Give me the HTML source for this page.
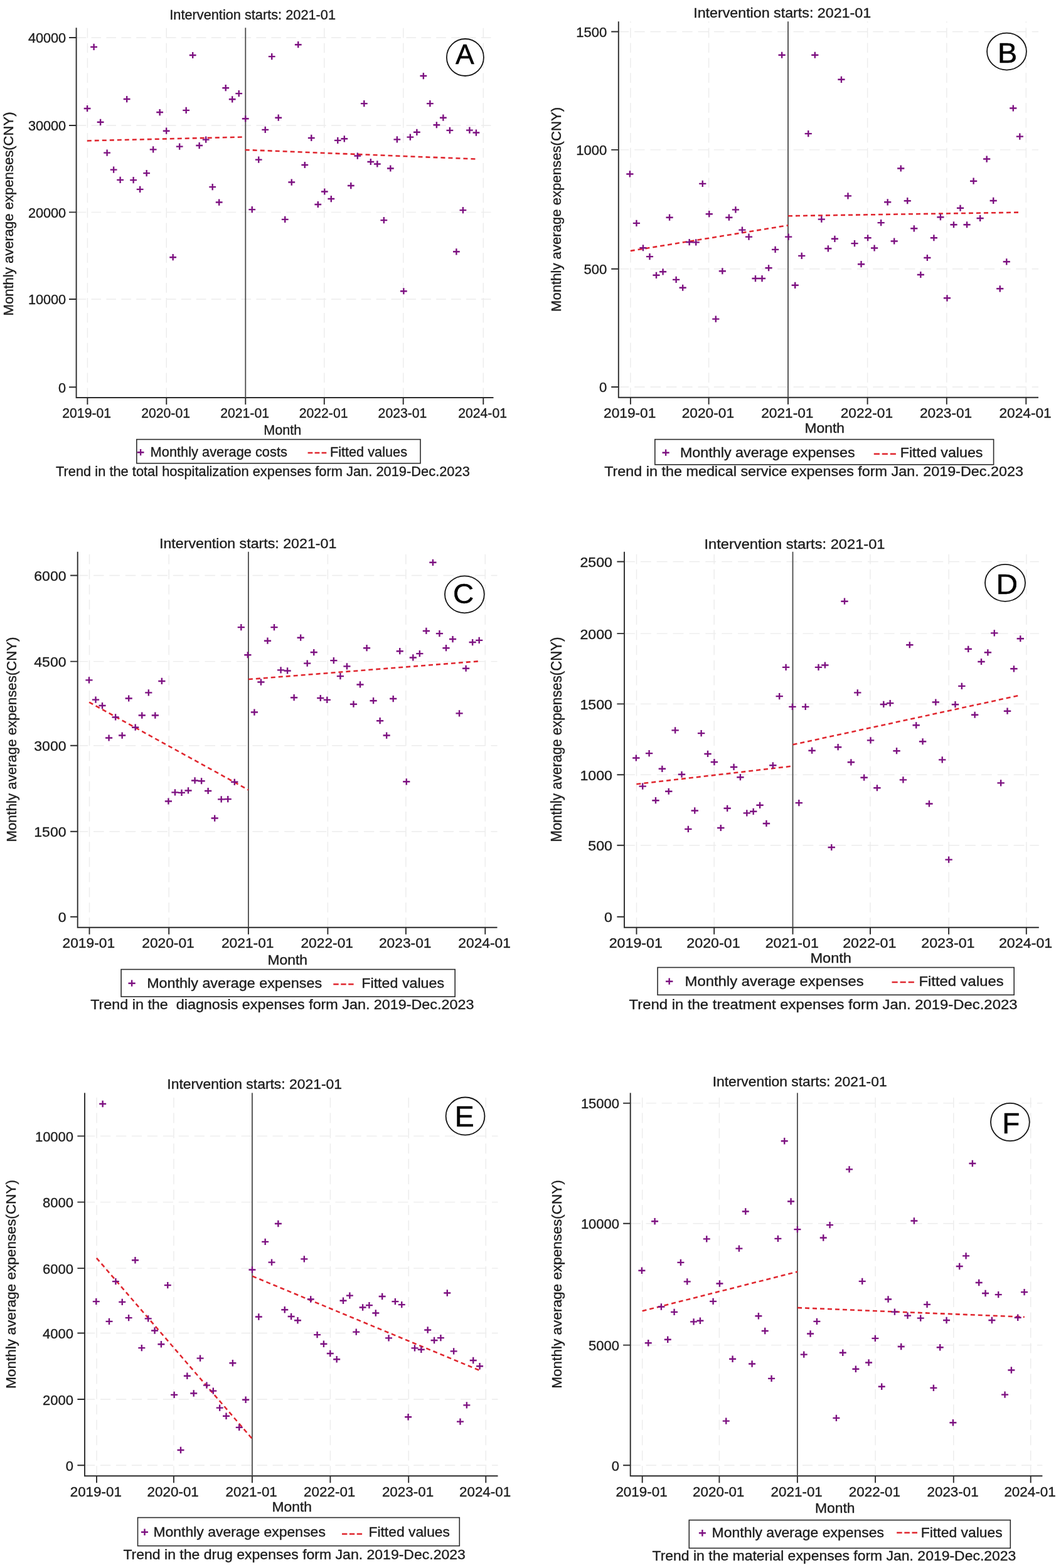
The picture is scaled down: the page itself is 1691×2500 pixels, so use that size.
<!DOCTYPE html>
<html lang="en">
<head>
<meta charset="utf-8">
<title>Interrupted time series: monthly average expenses, Jan. 2019-Dec.2023</title>
<style>
html,body{margin:0;padding:0;background:#fff}
body{width:1691px;height:2500px;overflow:hidden}
svg{display:block}
svg text{font-family:'Liberation Sans', sans-serif;white-space:pre;fill:#1c1c1c;stroke:#1c1c1c;stroke-width:.35px;stroke-linejoin:round}
svg text.bk{fill:#000;stroke:#000;stroke-width:.5px}
</style>
</head>
<body>
<svg width="1691" height="2500" viewBox="0 0 1691 2500">
<rect width="1691" height="2500" fill="#fff"/>
<g id="panel-A">
<path d="M121.6 477H786.5M121.6 338.4H786.5M121.6 200H786.5M121.6 60H786.5" stroke="#ececec" stroke-width="1.4" stroke-dasharray="15.6 8.3" fill="none"/>
<path d="M139.4 634V44.3M265.3 634V44.3M516.8 634V44.3M642.7 634V44.3M770.3 634V44.3" stroke="#ececec" stroke-width="1.4" stroke-dasharray="15.6 8.3" fill="none"/>
<path d="M121.6 44.3V634H786.5M110 617.2H121.6M110 477H121.6M110 338.4H121.6M110 200H121.6M110 60H121.6M139.4 634V645M265.3 634V645M391.3 634V645M516.8 634V645M642.7 634V645M770.3 634V645" stroke="#2b2b2b" stroke-width="1.9" fill="none"/>
<path d="M391.3 44.3V634" stroke="#4a4a4a" stroke-width="1.8" fill="none"/>
<path d="M138.8 224.4L390.7 218.4M390.7 238.9L759.1 253.6" stroke="#e0262e" stroke-width="2.55" stroke-dasharray="7 5" fill="none"/>
<path d="M133.7 173h10.8M139.1 167.9v10.2M144.2 74.87h10.8M149.6 69.77v10.2M154.71 194.78h10.8M160.11 189.68v10.2M165.21 243.59h10.8M170.61 238.49v10.2M175.72 270.61h10.8M181.12 265.51v10.2M186.22 286.88h10.8M191.62 281.78v10.2M196.73 158.05h10.8M202.13 152.95v10.2M207.23 287.14h10.8M212.63 282.04v10.2M217.74 301.84h10.8M223.14 296.74v10.2M228.24 276.12h10.8M233.64 271.02v10.2M238.75 238.34h10.8M244.15 233.24v10.2M249.25 179.04h10.8M254.65 173.94v10.2M259.76 208.69h10.8M265.16 203.59v10.2M270.26 410.2h10.8M275.66 405.1v10.2M280.77 233.62h10.8M286.17 228.52v10.2M291.27 175.89h10.8M296.67 170.79v10.2M301.78 87.99h10.8M307.18 82.89v10.2M312.28 232.04h10.8M317.68 226.94v10.2M322.79 222.59h10.8M328.19 217.49v10.2M333.3 298.16h10.8M338.7 293.06v10.2M343.8 322.57h10.8M349.2 317.47v10.2M354.31 140.2h10.8M359.71 135.1v10.2M364.81 158.31h10.8M370.21 153.21v10.2M375.32 149.13h10.8M380.72 144.03v10.2M385.82 189.27h10.8M391.22 184.17v10.2M396.33 334.11h10.8M401.73 329.01v10.2M406.83 254.61h10.8M412.23 249.51v10.2M417.34 206.85h10.8M422.74 201.75v10.2M427.84 90.09h10.8M433.24 84.99v10.2M438.35 187.7h10.8M443.75 182.6v10.2M448.85 349.85h10.8M454.25 344.75v10.2M459.36 290.55h10.8M464.76 285.45v10.2M469.86 71.2h10.8M475.26 66.1v10.2M480.37 263h10.8M485.77 257.9v10.2M490.87 219.97h10.8M496.27 214.87v10.2M501.38 325.98h10.8M506.78 320.88v10.2M511.88 305.51h10.8M517.28 300.41v10.2M522.39 317.06h10.8M527.79 311.96v10.2M532.89 223.91h10.8M538.29 218.81v10.2M543.4 221.28h10.8M548.8 216.18v10.2M553.9 296.06h10.8M559.3 290.96v10.2M564.41 248.57h10.8M569.81 243.47v10.2M574.91 165.13h10.8M580.31 160.03v10.2M585.42 258.02h10.8M590.82 252.92v10.2M595.92 261.43h10.8M601.32 256.33v10.2M606.43 351.17h10.8M611.83 346.07v10.2M616.93 268.51h10.8M622.33 263.41v10.2M627.44 222.33h10.8M632.84 217.23v10.2M637.95 464.26h10.8M643.35 459.16v10.2M648.45 218.66h10.8M653.85 213.56v10.2M658.96 210.79h10.8M664.36 205.69v10.2M669.46 121.05h10.8M674.86 115.95v10.2M679.97 165.13h10.8M685.37 160.03v10.2M690.47 199.24h10.8M695.87 194.14v10.2M700.98 187.7h10.8M706.38 182.6v10.2M711.48 207.9h10.8M716.88 202.8v10.2M721.99 401.28h10.8M727.39 396.18v10.2M732.49 335.16h10.8M737.89 330.06v10.2M743 207.64h10.8M748.4 202.54v10.2M753.5 211.57h10.8M758.9 206.47v10.2" stroke="#7d1181" stroke-width="2.4" fill="none"/>
<text x="105.2" y="625.55" font-size="21.3" text-anchor="end" textLength="12.06" lengthAdjust="spacingAndGlyphs">0</text>
<text x="105.2" y="485.35" font-size="21.3" text-anchor="end" textLength="60.3" lengthAdjust="spacingAndGlyphs">10000</text>
<text x="105.2" y="346.75" font-size="21.3" text-anchor="end" textLength="60.3" lengthAdjust="spacingAndGlyphs">20000</text>
<text x="105.2" y="208.35" font-size="21.3" text-anchor="end" textLength="60.3" lengthAdjust="spacingAndGlyphs">30000</text>
<text x="105.2" y="68.35" font-size="21.3" text-anchor="end" textLength="60.3" lengthAdjust="spacingAndGlyphs">40000</text>
<text x="138.2" y="666" font-size="21.3" text-anchor="middle" textLength="77.8" lengthAdjust="spacingAndGlyphs">2019-01</text>
<text x="264.1" y="666" font-size="21.3" text-anchor="middle" textLength="77.8" lengthAdjust="spacingAndGlyphs">2020-01</text>
<text x="390.1" y="666" font-size="21.3" text-anchor="middle" textLength="77.8" lengthAdjust="spacingAndGlyphs">2021-01</text>
<text x="515.6" y="666" font-size="21.3" text-anchor="middle" textLength="77.8" lengthAdjust="spacingAndGlyphs">2022-01</text>
<text x="641.5" y="666" font-size="21.3" text-anchor="middle" textLength="77.8" lengthAdjust="spacingAndGlyphs">2023-01</text>
<text x="769.1" y="666" font-size="21.3" text-anchor="middle" textLength="77.8" lengthAdjust="spacingAndGlyphs">2024-01</text>
<text x="270.3" y="30.7" font-size="21.3" textLength="264.7" lengthAdjust="spacingAndGlyphs">Intervention starts: 2021-01</text>
<text x="420.3" y="693.2" font-size="21.3" textLength="60.1" lengthAdjust="spacingAndGlyphs">Month</text>
<text transform="translate(21.1 503.5) rotate(-90)" font-size="21.8" textLength="325" lengthAdjust="spacingAndGlyphs">Monthly average expenses(CNY)</text>
<rect x="217.8" y="700.6" width="452.2" height="38.1" fill="#fff" stroke="#2b2b2b" stroke-width="1.6"/>
<path d="M218.7 721.2h10.8M224.1 716.1v10.2" stroke="#7d1181" stroke-width="2.4" fill="none"/>
<text x="239.6" y="728.4" font-size="21.3" textLength="218.3" lengthAdjust="spacingAndGlyphs">Monthly average costs</text>
<path d="M490.6 722H520.3" stroke="#e0262e" stroke-width="2.55" stroke-dasharray="7.72 3.27" fill="none"/>
<text x="525.9" y="728.4" font-size="21.3" textLength="123.1" lengthAdjust="spacingAndGlyphs">Fitted values</text>
<text x="89" y="758.5" font-size="21.3" textLength="659.8" lengthAdjust="spacingAndGlyphs" xml:space="preserve">Trend in the total hospitalization expenses form Jan. 2019-Dec.2023</text>
<ellipse cx="741.4" cy="91.5" rx="29.5" ry="29.5" fill="#fff" stroke="#151515" stroke-width="1.8"/>
<text x="725.98" y="101.5" font-size="44.6" textLength="29.75" lengthAdjust="spacingAndGlyphs" class="bk">A</text>
</g>
<g id="panel-B">
<path d="M985.8 617H1655M985.8 428.8H1655M985.8 238.9H1655M985.8 50.5H1655" stroke="#ececec" stroke-width="1.4" stroke-dasharray="16.54 8.8" fill="none"/>
<path d="M1004.9 633.8V34.3M1129.6 633.8V34.3M1382.6 633.8V34.3M1508.8 633.8V34.3M1635.3 633.8V34.3" stroke="#ececec" stroke-width="1.4" stroke-dasharray="15.6 8.3" fill="none"/>
<path d="M985.8 34.3V633.8H1655M974.2 617H985.8M974.2 428.8H985.8M974.2 238.9H985.8M974.2 50.5H985.8M1004.9 633.8V644.8M1129.6 633.8V644.8M1256 633.8V644.8M1382.6 633.8V644.8M1508.8 633.8V644.8M1635.3 633.8V644.8" stroke="#2b2b2b" stroke-width="1.9" fill="none"/>
<path d="M1256 34.3V633.8" stroke="#4a4a4a" stroke-width="1.8" fill="none"/>
<path d="M1004.8 400L1256 359.3M1256 344.3L1625.3 338.6" stroke="#e0262e" stroke-width="2.55" stroke-dasharray="7 5" fill="none"/>
<path d="M998.28 277.43h11.2M1003.88 272.33v10.2M1008.82 355.89h11.2M1014.42 350.79v10.2M1019.35 395.25h11.2M1024.95 390.15v10.2M1029.88 409.15h11.2M1035.48 404.05v10.2M1040.41 438.8h11.2M1046.01 433.7v10.2M1050.95 433.29h11.2M1056.55 428.19v10.2M1061.48 346.71h11.2M1067.08 341.61v10.2M1072.01 445.89h11.2M1077.61 440.79v10.2M1082.55 458.75h11.2M1088.15 453.65v10.2M1093.08 386.06h11.2M1098.68 380.96v10.2M1103.61 386.33h11.2M1109.21 381.23v10.2M1114.15 292.92h11.2M1119.75 287.82v10.2M1124.68 341.2h11.2M1130.28 336.1v10.2M1135.21 508.6h11.2M1140.81 503.5v10.2M1145.74 432.24h11.2M1151.34 427.14v10.2M1156.28 346.71h11.2M1161.88 341.61v10.2M1166.81 334.37h11.2M1172.41 329.27v10.2M1177.34 366.65h11.2M1182.94 361.55v10.2M1187.88 377.67h11.2M1193.48 372.57v10.2M1198.41 444.05h11.2M1204.01 438.95v10.2M1208.94 444.05h11.2M1214.54 438.95v10.2M1219.48 427.26h11.2M1225.08 422.16v10.2M1230.01 397.87h11.2M1235.61 392.77v10.2M1240.54 87.73h11.2M1246.14 82.63v10.2M1251.07 377.67h11.2M1256.67 372.57v10.2M1261.61 454.81h11.2M1267.21 449.71v10.2M1272.14 407.84h11.2M1277.74 402.74v10.2M1282.67 213.15h11.2M1288.27 208.05v10.2M1293.21 87.73h11.2M1298.81 82.63v10.2M1303.74 349.59h11.2M1309.34 344.49v10.2M1314.27 396.3h11.2M1319.87 391.2v10.2M1324.81 380.82h11.2M1330.41 375.72v10.2M1335.34 126.82h11.2M1340.94 121.72v10.2M1345.87 312.33h11.2M1351.47 307.23v10.2M1356.4 388.16h11.2M1362 383.06v10.2M1366.94 421.22h11.2M1372.54 416.12v10.2M1377.47 379.24h11.2M1383.07 374.14v10.2M1388 395.51h11.2M1393.6 390.41v10.2M1398.54 355.1h11.2M1404.14 350v10.2M1409.07 322.3h11.2M1414.67 317.2v10.2M1419.6 384.49h11.2M1425.2 379.39v10.2M1430.14 268.51h11.2M1435.74 263.41v10.2M1440.67 320.2h11.2M1446.27 315.1v10.2M1451.2 364.29h11.2M1456.8 359.19v10.2M1461.73 438.02h11.2M1467.33 432.92v10.2M1472.27 410.99h11.2M1477.87 405.89v10.2M1482.8 379.24h11.2M1488.4 374.14v10.2M1493.33 346.18h11.2M1498.93 341.08v10.2M1503.87 475.28h11.2M1509.47 470.18v10.2M1514.4 358.25h11.2M1520 353.15v10.2M1524.93 331.75h11.2M1530.53 326.65v10.2M1535.46 358.25h11.2M1541.06 353.15v10.2M1546 288.72h11.2M1551.6 283.62v10.2M1556.53 348.02h11.2M1562.13 342.92v10.2M1567.06 253.56h11.2M1572.66 248.46v10.2M1577.6 319.94h11.2M1583.2 314.84v10.2M1588.13 460.32h11.2M1593.73 455.22v10.2M1598.66 417.29h11.2M1604.26 412.19v10.2M1609.2 172.48h11.2M1614.8 167.38v10.2M1619.73 217.61h11.2M1625.33 212.51v10.2" stroke="#7d1181" stroke-width="2.4" fill="none"/>
<text x="967.2" y="625.42" font-size="21.5" text-anchor="end" textLength="12.25" lengthAdjust="spacingAndGlyphs">0</text>
<text x="967.2" y="437.22" font-size="21.5" text-anchor="end" textLength="36.75" lengthAdjust="spacingAndGlyphs">500</text>
<text x="967.2" y="247.32" font-size="21.5" text-anchor="end" textLength="49" lengthAdjust="spacingAndGlyphs">1000</text>
<text x="967.2" y="58.92" font-size="21.5" text-anchor="end" textLength="49" lengthAdjust="spacingAndGlyphs">1500</text>
<text x="1003.7" y="666" font-size="21.5" text-anchor="middle" textLength="83.3" lengthAdjust="spacingAndGlyphs">2019-01</text>
<text x="1128.4" y="666" font-size="21.5" text-anchor="middle" textLength="83.3" lengthAdjust="spacingAndGlyphs">2020-01</text>
<text x="1254.8" y="666" font-size="21.5" text-anchor="middle" textLength="83.3" lengthAdjust="spacingAndGlyphs">2021-01</text>
<text x="1381.4" y="666" font-size="21.5" text-anchor="middle" textLength="83.3" lengthAdjust="spacingAndGlyphs">2022-01</text>
<text x="1507.6" y="666" font-size="21.5" text-anchor="middle" textLength="83.3" lengthAdjust="spacingAndGlyphs">2023-01</text>
<text x="1634.1" y="666" font-size="21.5" text-anchor="middle" textLength="83.3" lengthAdjust="spacingAndGlyphs">2024-01</text>
<text x="1105.2" y="27.7" font-size="21.5" textLength="282.9" lengthAdjust="spacingAndGlyphs">Intervention starts: 2021-01</text>
<text x="1282.5" y="690.4" font-size="21.5" textLength="63.5" lengthAdjust="spacingAndGlyphs">Month</text>
<text transform="translate(893.5 497.05) rotate(-90)" font-size="22.9" textLength="326.1" lengthAdjust="spacingAndGlyphs">Monthly average expenses(CNY)</text>
<rect x="1043.8" y="700.6" width="539.8" height="40.2" fill="#fff" stroke="#2b2b2b" stroke-width="1.6"/>
<path d="M1055.5 721.7h11.2M1061.1 716.6v10.2" stroke="#7d1181" stroke-width="2.4" fill="none"/>
<text x="1083.9" y="728.8" font-size="21.5" textLength="278.7" lengthAdjust="spacingAndGlyphs">Monthly average expenses</text>
<path d="M1392.8 723.7H1427.9" stroke="#e0262e" stroke-width="2.55" stroke-dasharray="9.13 3.86" fill="none"/>
<text x="1434.7" y="728.8" font-size="21.5" textLength="131.8" lengthAdjust="spacingAndGlyphs">Fitted values</text>
<text x="963.2" y="758.6" font-size="21.5" textLength="667.7" lengthAdjust="spacingAndGlyphs" xml:space="preserve">Trend in the medical service expenses form Jan. 2019-Dec.2023</text>
<ellipse cx="1604.5" cy="82.1" rx="31.4" ry="29.5" fill="#fff" stroke="#151515" stroke-width="1.8"/>
<text x="1590.05" y="99.5" font-size="45" textLength="31.22" lengthAdjust="spacingAndGlyphs" class="bk">B</text>
</g>
<g id="panel-C">
<path d="M123.7 1325.8H792.5M123.7 1188.8H792.5M123.7 1054.6H792.5M123.7 917.5H792.5" stroke="#ececec" stroke-width="1.4" stroke-dasharray="16.54 8.8" fill="none"/>
<path d="M142.5 1478.8V879.8M269.2 1478.8V879.8M522.4 1478.8V879.8M646.9 1478.8V879.8M773.3 1478.8V879.8" stroke="#ececec" stroke-width="1.4" stroke-dasharray="15.76 8.38" fill="none"/>
<path d="M123.7 879.8V1478.8H792.5M112.1 1461.7H123.7M112.1 1325.8H123.7M112.1 1188.8H123.7M112.1 1054.6H123.7M112.1 917.5H123.7M142.5 1478.8V1489.8M269.2 1478.8V1489.8M395.9 1478.8V1489.8M522.4 1478.8V1489.8M646.9 1478.8V1489.8M773.3 1478.8V1489.8" stroke="#2b2b2b" stroke-width="1.9" fill="none"/>
<path d="M395.9 879.8V1478.8" stroke="#4a4a4a" stroke-width="1.8" fill="none"/>
<path d="M142.1 1119.6L395.9 1259.4M395.9 1083.1L764 1054.2" stroke="#e0262e" stroke-width="2.55" stroke-dasharray="7 5" fill="none"/>
<path d="M136.36 1084.39h11.2M141.96 1079.29v10.2M146.9 1115.61h11.2M152.5 1110.51v10.2M157.43 1125.06h11.2M163.03 1119.96v10.2M167.97 1176.49h11.2M173.57 1171.39v10.2M178.51 1143.43h11.2M184.11 1138.33v10.2M189.05 1172.55h11.2M194.65 1167.45v10.2M199.58 1113.51h11.2M205.18 1108.41v10.2M210.12 1159.69h11.2M215.72 1154.59v10.2M220.66 1140.54h11.2M226.26 1135.44v10.2M231.2 1104.33h11.2M236.8 1099.23v10.2M241.73 1140.54h11.2M247.33 1135.44v10.2M252.27 1085.96h11.2M257.87 1080.86v10.2M262.81 1277.51h11.2M268.41 1272.41v10.2M273.35 1263.34h11.2M278.95 1258.24v10.2M283.89 1263.86h11.2M289.49 1258.76v10.2M294.42 1260.45h11.2M300.02 1255.35v10.2M304.96 1244.45h11.2M310.56 1239.35v10.2M315.5 1245.23h11.2M321.1 1240.13v10.2M326.04 1260.98h11.2M331.64 1255.88v10.2M336.57 1304.53h11.2M342.17 1299.43v10.2M347.11 1274.36h11.2M352.71 1269.26v10.2M357.65 1274.1h11.2M363.25 1269v10.2M368.19 1246.81h11.2M373.79 1241.71v10.2M378.72 1000.16h11.2M384.32 995.06v10.2M389.26 1044.24h11.2M394.86 1039.14v10.2M399.8 1135.55h11.2M405.4 1130.45v10.2M410.34 1087.54h11.2M415.94 1082.44v10.2M420.87 1021.68h11.2M426.47 1016.58v10.2M431.41 1000.16h11.2M437.01 995.06v10.2M441.95 1068.38h11.2M447.55 1063.28v10.2M452.49 1069.43h11.2M458.09 1064.33v10.2M463.03 1112.2h11.2M468.63 1107.1v10.2M473.56 1016.69h11.2M479.16 1011.59v10.2M484.1 1057.62h11.2M489.7 1052.52v10.2M494.64 1040.04h11.2M500.24 1034.94v10.2M505.18 1112.99h11.2M510.78 1107.89v10.2M515.71 1115.87h11.2M521.31 1110.77v10.2M526.25 1053.16h11.2M531.85 1048.06v10.2M536.79 1078.09h11.2M542.39 1072.99v10.2M547.33 1062.35h11.2M552.93 1057.25v10.2M557.86 1122.7h11.2M563.46 1117.6v10.2M568.4 1091.47h11.2M574 1086.37v10.2M578.94 1033.22h11.2M584.54 1028.12v10.2M589.48 1117.19h11.2M595.08 1112.09v10.2M600.01 1149.2h11.2M605.61 1144.1v10.2M610.55 1172.55h11.2M616.15 1167.45v10.2M621.09 1114.04h11.2M626.69 1108.94v10.2M631.63 1038.21h11.2M637.23 1033.11v10.2M642.17 1246.28h11.2M647.77 1241.18v10.2M652.7 1048.44h11.2M658.3 1043.34v10.2M663.24 1042.14h11.2M668.84 1037.04v10.2M673.78 1005.93h11.2M679.38 1000.83v10.2M684.32 896.78h11.2M689.92 891.68v10.2M694.85 1010.13h11.2M700.45 1005.03v10.2M705.39 1033.22h11.2M710.99 1028.12v10.2M715.93 1019.05h11.2M721.53 1013.95v10.2M726.47 1137.39h11.2M732.07 1132.29v10.2M737 1065.76h11.2M742.6 1060.66v10.2M747.54 1024.04h11.2M753.14 1018.94v10.2M758.08 1020.89h11.2M763.68 1015.79v10.2" stroke="#7d1181" stroke-width="2.4" fill="none"/>
<text x="105.5" y="1470.12" font-size="21.5" text-anchor="end" textLength="12.8" lengthAdjust="spacingAndGlyphs">0</text>
<text x="105.5" y="1334.22" font-size="21.5" text-anchor="end" textLength="51.2" lengthAdjust="spacingAndGlyphs">1500</text>
<text x="105.5" y="1197.22" font-size="21.5" text-anchor="end" textLength="51.2" lengthAdjust="spacingAndGlyphs">3000</text>
<text x="105.5" y="1063.02" font-size="21.5" text-anchor="end" textLength="51.2" lengthAdjust="spacingAndGlyphs">4500</text>
<text x="105.5" y="925.92" font-size="21.5" text-anchor="end" textLength="51.2" lengthAdjust="spacingAndGlyphs">6000</text>
<text x="141.3" y="1511" font-size="21.5" text-anchor="middle" textLength="83.5" lengthAdjust="spacingAndGlyphs">2019-01</text>
<text x="268" y="1511" font-size="21.5" text-anchor="middle" textLength="83.5" lengthAdjust="spacingAndGlyphs">2020-01</text>
<text x="394.7" y="1511" font-size="21.5" text-anchor="middle" textLength="83.5" lengthAdjust="spacingAndGlyphs">2021-01</text>
<text x="521.2" y="1511" font-size="21.5" text-anchor="middle" textLength="83.5" lengthAdjust="spacingAndGlyphs">2022-01</text>
<text x="645.7" y="1511" font-size="21.5" text-anchor="middle" textLength="83.5" lengthAdjust="spacingAndGlyphs">2023-01</text>
<text x="772.1" y="1511" font-size="21.5" text-anchor="middle" textLength="83.5" lengthAdjust="spacingAndGlyphs">2024-01</text>
<text x="254" y="873.8" font-size="21.5" textLength="282.3" lengthAdjust="spacingAndGlyphs">Intervention starts: 2021-01</text>
<text x="426.4" y="1538.2" font-size="21.5" textLength="63.7" lengthAdjust="spacingAndGlyphs">Month</text>
<text transform="translate(25.7 1342.6) rotate(-90)" font-size="22.9" textLength="327" lengthAdjust="spacingAndGlyphs">Monthly average expenses(CNY)</text>
<rect x="193.1" y="1545.6" width="532.1" height="43.5" fill="#fff" stroke="#2b2b2b" stroke-width="1.6"/>
<path d="M204.5 1567.7h11.2M210.1 1562.6v10.2" stroke="#7d1181" stroke-width="2.4" fill="none"/>
<text x="234.2" y="1575.1" font-size="21.5" textLength="278.9" lengthAdjust="spacingAndGlyphs">Monthly average expenses</text>
<path d="M531.3 1569.2H563.6" stroke="#e0262e" stroke-width="2.55" stroke-dasharray="8.4 3.55" fill="none"/>
<text x="576.3" y="1575.1" font-size="21.5" textLength="131.8" lengthAdjust="spacingAndGlyphs">Fitted values</text>
<text x="144.2" y="1608.9" font-size="21.5" textLength="611.2" lengthAdjust="spacingAndGlyphs" xml:space="preserve">Trend in the  diagnosis expenses form Jan. 2019-Dec.2023</text>
<ellipse cx="740.4" cy="947.8" rx="31.4" ry="29.5" fill="#fff" stroke="#151515" stroke-width="1.8"/>
<text x="721.97" y="962.2" font-size="45.2" textLength="33.29" lengthAdjust="spacingAndGlyphs" class="bk">C</text>
</g>
<g id="panel-D">
<path d="M995 1347.8H1655.8M995 1235.3H1655.8M995 1122.4H1655.8M995 1010.1H1655.8M995 895.5H1655.8" stroke="#ececec" stroke-width="1.4" stroke-dasharray="16.88 8.98" fill="none"/>
<path d="M1014.5 1478.8V879.8M1138.2 1478.8V879.8M1387 1478.8V879.8M1512.1 1478.8V879.8M1635.8 1478.8V879.8" stroke="#ececec" stroke-width="1.4" stroke-dasharray="15.76 8.38" fill="none"/>
<path d="M995 879.8V1478.8H1655.8M983.4 1461.7H995M983.4 1347.8H995M983.4 1235.3H995M983.4 1122.4H995M983.4 1010.1H995M983.4 895.5H995M1014.5 1478.8V1489.8M1138.2 1478.8V1489.8M1263.5 1478.8V1489.8M1387 1478.8V1489.8M1512.1 1478.8V1489.8M1635.8 1478.8V1489.8" stroke="#2b2b2b" stroke-width="1.9" fill="none"/>
<path d="M1263.5 879.8V1478.8" stroke="#4a4a4a" stroke-width="1.8" fill="none"/>
<path d="M1014.4 1250.2L1263.6 1221.4M1263.6 1187.3L1622.5 1109.2" stroke="#e0262e" stroke-width="2.55" stroke-dasharray="7 5" fill="none"/>
<path d="M1008.14 1208.5h11.4M1013.84 1203.4v10.2M1018.52 1253.63h11.4M1024.22 1248.53v10.2M1028.9 1201.15h11.4M1034.6 1196.05v10.2M1039.28 1276.2h11.4M1044.98 1271.1v10.2M1049.66 1225.82h11.4M1055.36 1220.72v10.2M1060.04 1261.76h11.4M1065.74 1256.66v10.2M1070.42 1164.42h11.4M1076.12 1159.32v10.2M1080.8 1234.74h11.4M1086.5 1229.64v10.2M1091.18 1321.85h11.4M1096.88 1316.75v10.2M1101.56 1292.46h11.4M1107.26 1287.36v10.2M1111.94 1169.14h11.4M1117.64 1164.04v10.2M1122.32 1201.94h11.4M1128.02 1196.84v10.2M1132.7 1215.06h11.4M1138.4 1209.96v10.2M1143.08 1320.01h11.4M1148.78 1314.91v10.2M1153.46 1288.79h11.4M1159.16 1283.69v10.2M1163.84 1222.93h11.4M1169.54 1217.83v10.2M1174.22 1239.2h11.4M1179.92 1234.1v10.2M1184.61 1296.4h11.4M1190.31 1291.3v10.2M1194.99 1293.78h11.4M1200.69 1288.68v10.2M1205.37 1283.8h11.4M1211.07 1278.7v10.2M1215.75 1312.93h11.4M1221.45 1307.83v10.2M1226.13 1220.31h11.4M1231.83 1215.21v10.2M1236.51 1110.1h11.4M1242.21 1105v10.2M1246.89 1063.92h11.4M1252.59 1058.82v10.2M1257.27 1126.9h11.4M1262.97 1121.8v10.2M1267.65 1280.13h11.4M1273.35 1275.03v10.2M1278.03 1126.9h11.4M1283.73 1121.8v10.2M1288.41 1196.69h11.4M1294.11 1191.59v10.2M1298.79 1063.92h11.4M1304.49 1058.82v10.2M1309.17 1060.51h11.4M1314.87 1055.41v10.2M1319.55 1350.98h11.4M1325.25 1345.88v10.2M1329.93 1191.18h11.4M1335.63 1186.08v10.2M1340.31 958.7h11.4M1346.01 953.6v10.2M1350.69 1215.32h11.4M1356.39 1210.22v10.2M1361.07 1104.33h11.4M1366.77 1099.23v10.2M1371.45 1239.72h11.4M1377.15 1234.62v10.2M1381.83 1180.42h11.4M1387.53 1175.32v10.2M1392.21 1256.25h11.4M1397.91 1251.15v10.2M1402.59 1122.96h11.4M1408.29 1117.86v10.2M1412.97 1121.12h11.4M1418.67 1116.02v10.2M1423.35 1197.22h11.4M1429.05 1192.12v10.2M1433.73 1243.4h11.4M1439.43 1238.3v10.2M1444.11 1028.24h11.4M1449.81 1023.14v10.2M1454.49 1156.28h11.4M1460.19 1151.18v10.2M1464.87 1182.26h11.4M1470.57 1177.16v10.2M1475.25 1281.44h11.4M1480.95 1276.34v10.2M1485.63 1119.55h11.4M1491.33 1114.45v10.2M1496.02 1211.38h11.4M1501.72 1206.28v10.2M1506.4 1370.66h11.4M1512.1 1365.56v10.2M1516.78 1123.22h11.4M1522.48 1118.12v10.2M1527.16 1093.83h11.4M1532.86 1088.73v10.2M1537.54 1034.8h11.4M1543.24 1029.7v10.2M1547.92 1139.75h11.4M1553.62 1134.65v10.2M1558.3 1055h11.4M1564 1049.9v10.2M1568.68 1040.31h11.4M1574.38 1035.21v10.2M1579.06 1009.34h11.4M1584.76 1004.24v10.2M1589.44 1248.38h11.4M1595.14 1243.28v10.2M1599.82 1133.72h11.4M1605.52 1128.62v10.2M1610.2 1066.28h11.4M1615.9 1061.18v10.2M1620.58 1018.27h11.4M1626.28 1013.17v10.2" stroke="#7d1181" stroke-width="2.4" fill="none"/>
<text x="976" y="1470.15" font-size="21.6" text-anchor="end" textLength="12.88" lengthAdjust="spacingAndGlyphs">0</text>
<text x="976" y="1356.25" font-size="21.6" text-anchor="end" textLength="38.62" lengthAdjust="spacingAndGlyphs">500</text>
<text x="976" y="1243.75" font-size="21.6" text-anchor="end" textLength="51.5" lengthAdjust="spacingAndGlyphs">1000</text>
<text x="976" y="1130.85" font-size="21.6" text-anchor="end" textLength="51.5" lengthAdjust="spacingAndGlyphs">1500</text>
<text x="976" y="1018.55" font-size="21.6" text-anchor="end" textLength="51.5" lengthAdjust="spacingAndGlyphs">2000</text>
<text x="976" y="903.95" font-size="21.6" text-anchor="end" textLength="51.5" lengthAdjust="spacingAndGlyphs">2500</text>
<text x="1013.3" y="1511" font-size="21.6" text-anchor="middle" textLength="85.3" lengthAdjust="spacingAndGlyphs">2019-01</text>
<text x="1137" y="1511" font-size="21.6" text-anchor="middle" textLength="85.3" lengthAdjust="spacingAndGlyphs">2020-01</text>
<text x="1262.3" y="1511" font-size="21.6" text-anchor="middle" textLength="85.3" lengthAdjust="spacingAndGlyphs">2021-01</text>
<text x="1385.8" y="1511" font-size="21.6" text-anchor="middle" textLength="85.3" lengthAdjust="spacingAndGlyphs">2022-01</text>
<text x="1510.9" y="1511" font-size="21.6" text-anchor="middle" textLength="85.3" lengthAdjust="spacingAndGlyphs">2023-01</text>
<text x="1634.6" y="1511" font-size="21.6" text-anchor="middle" textLength="85.3" lengthAdjust="spacingAndGlyphs">2024-01</text>
<text x="1122.5" y="874.7" font-size="21.6" textLength="288" lengthAdjust="spacingAndGlyphs">Intervention starts: 2021-01</text>
<text x="1291.4" y="1535.4" font-size="21.6" textLength="65.5" lengthAdjust="spacingAndGlyphs">Month</text>
<text transform="translate(895 1342.6) rotate(-90)" font-size="23.3" textLength="327" lengthAdjust="spacingAndGlyphs">Monthly average expenses(CNY)</text>
<rect x="1048.1" y="1542.5" width="568.1" height="43.8" fill="#fff" stroke="#2b2b2b" stroke-width="1.6"/>
<path d="M1061 1564.7h11.4M1066.7 1559.6v10.2" stroke="#7d1181" stroke-width="2.4" fill="none"/>
<text x="1091.6" y="1571.8" font-size="21.6" textLength="285" lengthAdjust="spacingAndGlyphs">Monthly average expenses</text>
<path d="M1421.5 1565.9H1456.9" stroke="#e0262e" stroke-width="2.55" stroke-dasharray="9.2 3.89" fill="none"/>
<text x="1464.5" y="1571.8" font-size="21.6" textLength="135.1" lengthAdjust="spacingAndGlyphs">Fitted values</text>
<text x="1002.6" y="1608.9" font-size="21.6" textLength="618.9" lengthAdjust="spacingAndGlyphs" xml:space="preserve">Trend in the treatment expenses form Jan. 2019-Dec.2023</text>
<ellipse cx="1602" cy="929.3" rx="32" ry="29.5" fill="#fff" stroke="#151515" stroke-width="1.8"/>
<text x="1587.53" y="946.6" font-size="45" textLength="34.6" lengthAdjust="spacingAndGlyphs" class="bk">D</text>
</g>
<g id="panel-E">
<path d="M135 2336.2H793.5M135 2231H793.5M135 2125.5H793.5M135 2022.1H793.5M135 1916.6H793.5M135 1811.4H793.5" stroke="#ececec" stroke-width="1.4" stroke-dasharray="16.29 8.67" fill="none"/>
<path d="M154 2353.2V1742.4M276.9 2353.2V1742.4M526.4 2353.2V1742.4M651.2 2353.2V1742.4M774.3 2353.2V1742.4" stroke="#ececec" stroke-width="1.4" stroke-dasharray="15.97 8.5" fill="none"/>
<path d="M135 1742.4V2353.2H793.5M123.4 2336.2H135M123.4 2231H135M123.4 2125.5H135M123.4 2022.1H135M123.4 1916.6H135M123.4 1811.4H135M154 2353.2V2364.2M276.9 2353.2V2364.2M401.9 2353.2V2364.2M526.4 2353.2V2364.2M651.2 2353.2V2364.2M774.3 2353.2V2364.2" stroke="#2b2b2b" stroke-width="1.9" fill="none"/>
<path d="M401.9 1742.4V2353.2" stroke="#4a4a4a" stroke-width="1.8" fill="none"/>
<path d="M153.9 2005.8L401.5 2293.5M402.2 2034.7L764 2184.8" stroke="#e0262e" stroke-width="2.55" stroke-dasharray="7 5" fill="none"/>
<path d="M147.8 2075.1h11M153.3 2069.9v10.4M158.16 1759.97h11M163.66 1754.77v10.4M168.52 2106.85h11M174.02 2101.65v10.4M178.89 2043.09h11M184.39 2037.89v10.4M189.25 2075.89h11M194.75 2070.69v10.4M199.61 2101.08h11M205.11 2095.88v10.4M209.97 2009.24h11M215.47 2004.04v10.4M220.33 2149.1h11M225.83 2143.9v10.4M230.69 2102.39h11M236.19 2097.19v10.4M241.05 2121.55h11M246.55 2116.35v10.4M251.41 2143.32h11M256.91 2138.12v10.4M261.77 2049.13h11M267.27 2043.93v10.4M272.13 2223.88h11M277.63 2218.68v10.4M282.49 2312.04h11M287.99 2306.84v10.4M292.85 2193.7h11M298.35 2188.5v10.4M303.21 2221.52h11M308.71 2216.32v10.4M313.57 2165.63h11M319.07 2160.43v10.4M323.93 2208.66h11M329.43 2203.46v10.4M334.3 2217.58h11M339.8 2212.38v10.4M344.66 2244.61h11M350.16 2239.41v10.4M355.02 2257.73h11M360.52 2252.53v10.4M365.38 2173.24h11M370.88 2168.04v10.4M375.74 2275.83h11M381.24 2270.63v10.4M386.1 2231.75h11M391.6 2226.55v10.4M396.46 2024.46h11M401.96 2019.26v10.4M406.82 2099.5h11M412.32 2094.3v10.4M417.18 1979.85h11M422.68 1974.65v10.4M427.54 2012.65h11M433.04 2007.45v10.4M437.9 1950.99h11M443.4 1945.79v10.4M448.26 2088.22h11M453.76 2083.02v10.4M458.62 2098.98h11M464.12 2093.78v10.4M468.98 2105.28h11M474.48 2100.08v10.4M479.34 2007.41h11M484.84 2002.21v10.4M489.7 2071.43h11M495.2 2066.23v10.4M500.07 2128.1h11M505.57 2122.9v10.4M510.43 2142.8h11M515.93 2137.6v10.4M520.79 2158.02h11M526.29 2152.82v10.4M531.15 2167.2h11M536.65 2162v10.4M541.51 2073.79h11M547.01 2068.59v10.4M551.87 2065.66h11M557.37 2060.46v10.4M562.23 2123.64h11M567.73 2118.44v10.4M572.59 2084.55h11M578.09 2079.35v10.4M582.95 2081.14h11M588.45 2075.94v10.4M593.31 2093.47h11M598.81 2088.27v10.4M603.67 2066.97h11M609.17 2061.77v10.4M614.03 2133.35h11M619.53 2128.15v10.4M624.39 2075.1h11M629.89 2069.9v10.4M634.75 2080.09h11M640.25 2074.89v10.4M645.11 2259.3h11M650.61 2254.1v10.4M655.48 2149.36h11M660.98 2144.16v10.4M665.84 2151.72h11M671.34 2146.52v10.4M676.2 2120.5h11M681.7 2115.3v10.4M686.56 2137.03h11M692.06 2131.83v10.4M696.92 2133.09h11M702.42 2127.89v10.4M707.28 2061.46h11M712.78 2056.26v10.4M717.64 2154.34h11M723.14 2149.14v10.4M728 2266.65h11M733.5 2261.45v10.4M738.36 2240.41h11M743.86 2235.21v10.4M748.72 2169.04h11M754.22 2163.84v10.4M759.08 2178.22h11M764.58 2173.02v10.4" stroke="#7d1181" stroke-width="2.4" fill="none"/>
<text x="117.1" y="2344.76" font-size="21.9" text-anchor="end" textLength="12.24" lengthAdjust="spacingAndGlyphs">0</text>
<text x="117.1" y="2239.56" font-size="21.9" text-anchor="end" textLength="48.96" lengthAdjust="spacingAndGlyphs">2000</text>
<text x="117.1" y="2134.06" font-size="21.9" text-anchor="end" textLength="48.96" lengthAdjust="spacingAndGlyphs">4000</text>
<text x="117.1" y="2030.66" font-size="21.9" text-anchor="end" textLength="48.96" lengthAdjust="spacingAndGlyphs">6000</text>
<text x="117.1" y="1925.16" font-size="21.9" text-anchor="end" textLength="48.96" lengthAdjust="spacingAndGlyphs">8000</text>
<text x="117.1" y="1819.96" font-size="21.9" text-anchor="end" textLength="61.2" lengthAdjust="spacingAndGlyphs">10000</text>
<text x="152.8" y="2386" font-size="21.9" text-anchor="middle" textLength="82.2" lengthAdjust="spacingAndGlyphs">2019-01</text>
<text x="275.7" y="2386" font-size="21.9" text-anchor="middle" textLength="82.2" lengthAdjust="spacingAndGlyphs">2020-01</text>
<text x="400.7" y="2386" font-size="21.9" text-anchor="middle" textLength="82.2" lengthAdjust="spacingAndGlyphs">2021-01</text>
<text x="525.2" y="2386" font-size="21.9" text-anchor="middle" textLength="82.2" lengthAdjust="spacingAndGlyphs">2022-01</text>
<text x="650" y="2386" font-size="21.9" text-anchor="middle" textLength="82.2" lengthAdjust="spacingAndGlyphs">2023-01</text>
<text x="773.1" y="2386" font-size="21.9" text-anchor="middle" textLength="82.2" lengthAdjust="spacingAndGlyphs">2024-01</text>
<text x="266.3" y="1736" font-size="21.9" textLength="278.8" lengthAdjust="spacingAndGlyphs">Intervention starts: 2021-01</text>
<text x="433.5" y="2410.4" font-size="21.9" textLength="63.5" lengthAdjust="spacingAndGlyphs">Month</text>
<text transform="translate(25.1 2214) rotate(-90)" font-size="22.7" textLength="333" lengthAdjust="spacingAndGlyphs">Monthly average expenses(CNY)</text>
<rect x="219.5" y="2419.6" width="512.8" height="45.1" fill="#fff" stroke="#2b2b2b" stroke-width="1.6"/>
<path d="M225 2442.7h11M230.5 2437.5v10.4" stroke="#7d1181" stroke-width="2.4" fill="none"/>
<text x="244.4" y="2450.1" font-size="21.9" textLength="274.5" lengthAdjust="spacingAndGlyphs">Monthly average expenses</text>
<path d="M545 2445.8H577.1" stroke="#e0262e" stroke-width="2.55" stroke-dasharray="8.35 3.53" fill="none"/>
<text x="587.5" y="2450.1" font-size="21.9" textLength="129.5" lengthAdjust="spacingAndGlyphs">Fitted values</text>
<text x="196.4" y="2485.7" font-size="21.9" textLength="545.5" lengthAdjust="spacingAndGlyphs" xml:space="preserve">Trend in the drug expenses form Jan. 2019-Dec.2023</text>
<ellipse cx="741.5" cy="1779.6" rx="30.9" ry="30.1" fill="#fff" stroke="#151515" stroke-width="1.8"/>
<text x="724.73" y="1795.7" font-size="46.5" textLength="31.02" lengthAdjust="spacingAndGlyphs" class="bk">E</text>
</g>
<g id="panel-F">
<path d="M1004.7 2336.2H1661.4M1004.7 2144.6H1661.4M1004.7 1950.7H1661.4M1004.7 1758.9H1661.4" stroke="#ececec" stroke-width="1.4" stroke-dasharray="16.27 8.66" fill="none"/>
<path d="M1023.7 2353.2V1742.4M1146.4 2353.2V1742.4M1395.1 2353.2V1742.4M1519.8 2353.2V1742.4M1642.7 2353.2V1742.4" stroke="#ececec" stroke-width="1.4" stroke-dasharray="15.97 8.5" fill="none"/>
<path d="M1004.7 1742.4V2353.2H1661.4M993.1 2336.2H1004.7M993.1 2144.6H1004.7M993.1 1950.7H1004.7M993.1 1758.9H1004.7M1023.7 2353.2V2364.2M1146.4 2353.2V2364.2M1270.9 2353.2V2364.2M1395.1 2353.2V2364.2M1519.8 2353.2V2364.2M1642.7 2353.2V2364.2" stroke="#2b2b2b" stroke-width="1.9" fill="none"/>
<path d="M1270.9 1742.4V2353.2" stroke="#4a4a4a" stroke-width="1.8" fill="none"/>
<path d="M1023.6 2090.3L1271 2027.6M1271 2085.1L1632.8 2099.8" stroke="#e0262e" stroke-width="2.55" stroke-dasharray="7 5" fill="none"/>
<path d="M1017.42 2025.77h11M1022.92 2020.57v10.4M1027.76 2141.22h11M1033.26 2136.02v10.4M1038.09 1947.32h11M1043.59 1942.12v10.4M1048.42 2083.5h11M1053.92 2078.3v10.4M1058.75 2135.71h11M1064.25 2130.51v10.4M1069.09 2091.9h11M1074.59 2086.7v10.4M1079.42 2012.92h11M1084.92 2007.72v10.4M1089.75 2043.35h11M1095.25 2038.15v10.4M1100.08 2107.38h11M1105.58 2102.18v10.4M1110.42 2105.8h11M1115.92 2100.6v10.4M1120.75 1975.39h11M1126.25 1970.19v10.4M1131.08 2074.84h11M1136.58 2069.64v10.4M1141.42 2046.5h11M1146.92 2041.3v10.4M1151.75 2265.6h11M1157.25 2260.4v10.4M1162.08 2166.68h11M1167.58 2161.48v10.4M1172.41 1990.61h11M1177.91 1985.41v10.4M1182.75 1931.57h11M1188.25 1926.37v10.4M1193.08 2174.55h11M1198.58 2169.35v10.4M1203.41 2098.19h11M1208.91 2092.99v10.4M1213.74 2122.07h11M1219.24 2116.87v10.4M1224.08 2197.9h11M1229.58 2192.7v10.4M1234.41 1974.87h11M1239.91 1969.67v10.4M1244.74 1819.27h11M1250.24 1814.07v10.4M1255.07 1915.57h11M1260.57 1910.37v10.4M1265.41 1960.17h11M1270.91 1954.97v10.4M1275.74 2159.59h11M1281.24 2154.39v10.4M1286.07 2126.53h11M1291.57 2121.33v10.4M1296.41 2106.85h11M1301.91 2101.65v10.4M1306.74 1973.56h11M1312.24 1968.36v10.4M1317.07 1953.09h11M1322.57 1947.89v10.4M1327.4 2260.87h11M1332.9 2255.67v10.4M1337.74 2156.71h11M1343.24 2151.51v10.4M1348.07 1864.4h11M1353.57 1859.2v10.4M1358.4 2182.68h11M1363.9 2177.48v10.4M1368.73 2042.83h11M1374.23 2037.63v10.4M1379.07 2172.45h11M1384.57 2167.25v10.4M1389.4 2133.88h11M1394.9 2128.68v10.4M1399.73 2210.76h11M1405.23 2205.56v10.4M1410.06 2071.43h11M1415.56 2066.23v10.4M1420.4 2091.63h11M1425.9 2086.43v10.4M1430.73 2147h11M1436.23 2141.8v10.4M1441.06 2097.67h11M1446.56 2092.47v10.4M1451.4 1946.53h11M1456.9 1941.33v10.4M1461.73 2101.6h11M1467.23 2096.4v10.4M1472.06 2079.83h11M1477.56 2074.63v10.4M1482.39 2212.86h11M1487.89 2207.66v10.4M1492.73 2148.31h11M1498.23 2143.11v10.4M1503.06 2105.01h11M1508.56 2099.81v10.4M1513.39 2268.22h11M1518.89 2263.02v10.4M1523.72 2018.95h11M1529.22 2013.75v10.4M1534.06 2002.42h11M1539.56 1997.22v10.4M1544.39 1854.96h11M1549.89 1849.76v10.4M1554.72 2044.93h11M1560.22 2039.73v10.4M1565.05 2061.98h11M1570.55 2056.78v10.4M1575.39 2105.01h11M1580.89 2099.81v10.4M1585.72 2064.08h11M1591.22 2058.88v10.4M1596.05 2223.62h11M1601.55 2218.42v10.4M1606.39 2184.52h11M1611.89 2179.32v10.4M1616.72 2100.82h11M1622.22 2095.62v10.4M1627.05 2060.15h11M1632.55 2054.95v10.4" stroke="#7d1181" stroke-width="2.4" fill="none"/>
<text x="987" y="2344.76" font-size="21.9" text-anchor="end" textLength="12.22" lengthAdjust="spacingAndGlyphs">0</text>
<text x="987" y="2153.16" font-size="21.9" text-anchor="end" textLength="48.88" lengthAdjust="spacingAndGlyphs">5000</text>
<text x="987" y="1959.26" font-size="21.9" text-anchor="end" textLength="61.1" lengthAdjust="spacingAndGlyphs">10000</text>
<text x="987" y="1767.46" font-size="21.9" text-anchor="end" textLength="61.1" lengthAdjust="spacingAndGlyphs">15000</text>
<text x="1022.5" y="2386" font-size="21.9" text-anchor="middle" textLength="82.2" lengthAdjust="spacingAndGlyphs">2019-01</text>
<text x="1145.2" y="2386" font-size="21.9" text-anchor="middle" textLength="82.2" lengthAdjust="spacingAndGlyphs">2020-01</text>
<text x="1269.7" y="2386" font-size="21.9" text-anchor="middle" textLength="82.2" lengthAdjust="spacingAndGlyphs">2021-01</text>
<text x="1393.9" y="2386" font-size="21.9" text-anchor="middle" textLength="82.2" lengthAdjust="spacingAndGlyphs">2022-01</text>
<text x="1518.6" y="2386" font-size="21.9" text-anchor="middle" textLength="82.2" lengthAdjust="spacingAndGlyphs">2023-01</text>
<text x="1641.5" y="2386" font-size="21.9" text-anchor="middle" textLength="82.2" lengthAdjust="spacingAndGlyphs">2024-01</text>
<text x="1135.7" y="1731.6" font-size="21.9" textLength="277.9" lengthAdjust="spacingAndGlyphs">Intervention starts: 2021-01</text>
<text x="1299" y="2412.4" font-size="21.9" textLength="63.5" lengthAdjust="spacingAndGlyphs">Month</text>
<text transform="translate(895 2213.75) rotate(-90)" font-size="22.7" textLength="332.5" lengthAdjust="spacingAndGlyphs">Monthly average expenses(CNY)</text>
<rect x="1098.3" y="2423.6" width="512" height="44.8" fill="#fff" stroke="#2b2b2b" stroke-width="1.6"/>
<path d="M1113.9 2444.2h11M1119.4 2439v10.4" stroke="#7d1181" stroke-width="2.4" fill="none"/>
<text x="1134.6" y="2451.4" font-size="21.9" textLength="274.4" lengthAdjust="spacingAndGlyphs">Monthly average expenses</text>
<path d="M1429.2 2443.7H1462" stroke="#e0262e" stroke-width="2.55" stroke-dasharray="8.53 3.61" fill="none"/>
<text x="1467.8" y="2451.4" font-size="21.9" textLength="130" lengthAdjust="spacingAndGlyphs">Fitted values</text>
<text x="1039.5" y="2488" font-size="21.9" textLength="579.9" lengthAdjust="spacingAndGlyphs" xml:space="preserve">Trend in the material expenses form Jan. 2019-Dec.2023</text>
<ellipse cx="1609.9" cy="1789" rx="30.9" ry="30.1" fill="#fff" stroke="#151515" stroke-width="1.8"/>
<text x="1597.35" y="1807.3" font-size="46" textLength="28.11" lengthAdjust="spacingAndGlyphs" class="bk">F</text>
</g>
</svg>
</body>
</html>
